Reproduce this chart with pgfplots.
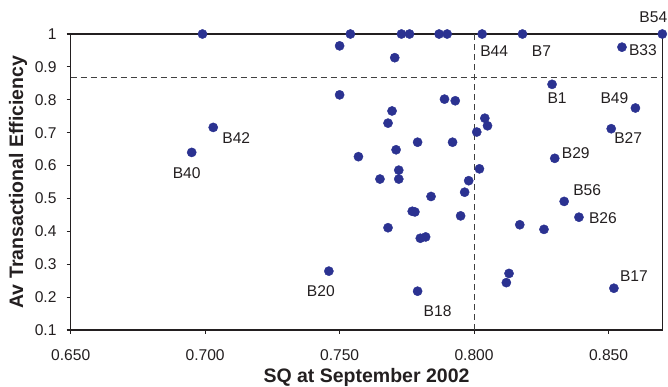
\documentclass[border=0pt]{standalone}
\usepackage{pgfplots}
\pgfplotsset{compat=1.18}
\usepackage{fontspec}
\setmainfont{Liberation Sans}
\definecolor{dotblue}{RGB}{43,50,145}
\definecolor{txt}{RGB}{35,31,32}
\definecolor{dashgray}{RGB}{64,64,64}
\tikzset{lbl/.style={font=\fontsize{15.6bp}{18bp}\selectfont, text=txt, inner sep=0pt}}
\begin{document}
\begin{tikzpicture}
\begin{axis}[
  at={(70.7bp,57bp)}, anchor=south west,
  scale only axis, width=591.6bp, height=296bp,
  xmin=0.65, xmax=0.87, ymin=0.1, ymax=1,
  xtick={0.65,0.7,0.75,0.8,0.85},
  ytick={0.1,0.2,0.3,0.4,0.5,0.6,0.7,0.8,0.9,1},
  xtick pos=bottom, ytick pos=left,
  tick align=outside, major tick length=4bp,
  axis line style={line width=1.1bp, color=txt},
  tick style={line width=1.1bp, color=txt},
  /pgf/number format/assume math mode=true,
  xticklabel style={/pgf/number format/.cd, fixed, fixed zerofill, precision=3, /tikz/.cd, anchor=base, yshift=-27bp, inner sep=0pt, font=\fontsize{15.6bp}{18bp}\selectfont, text=txt},
  yticklabel style={/pgf/number format/.cd, fixed, precision=1, /tikz/.cd, anchor=east, xshift=-10bp, inner sep=0pt, font=\fontsize{15.6bp}{18bp}\selectfont, text=txt},
  scaled x ticks=false, scaled y ticks=false,
  xlabel={SQ at September 2002},
  ylabel={Av Transactional Efficiency},
  xlabel style={at={(axis description cs:0.5,-0.179)}, anchor=base, inner sep=0pt, font=\fontsize{19.5bp}{23bp}\selectfont\bfseries, text=txt},
  ylabel style={at={(axis description cs:-0.089,0.5)}, anchor=center, inner sep=0pt, font=\fontsize{19.5bp}{23bp}\selectfont\bfseries, text=txt},
  clip=false,
]
\addplot[color=dashgray, line width=1.1bp, dash pattern=on 6bp off 4bp] coordinates {(0.65,0.867) (0.87,0.867)};
\addplot[color=dashgray, line width=1.1bp, dash pattern=on 6bp off 4bp] coordinates {(0.8,0.1) (0.8,1)};
\addplot[only marks, mark=*, mark size=4.6bp, mark options={fill=dotblue, draw=dotblue}] coordinates {
(0.699,1) (0.695,0.640) (0.703,0.716) (0.750,0.964) (0.750,0.815)
(0.754,1) (0.773,1) (0.776,1) (0.787,1) (0.790,1) (0.803,1) (0.818,1) (0.870,1)
(0.855,0.960) (0.7705,0.928) (0.829,0.847) (0.789,0.802) (0.793,0.797)
(0.860,0.775) (0.7695,0.766) (0.768,0.729) (0.804,0.744) (0.805,0.721)
(0.851,0.712) (0.801,0.702) (0.779,0.671) (0.792,0.671) (0.771,0.648)
(0.757,0.627) (0.830,0.622) (0.772,0.586) (0.772,0.559) (0.765,0.559)
(0.802,0.590) (0.798,0.554) (0.7965,0.519) (0.784,0.506) (0.8335,0.491)
(0.777,0.461) (0.778,0.459) (0.795,0.447) (0.839,0.443) (0.768,0.411)
(0.817,0.420) (0.826,0.406) (0.780,0.379) (0.782,0.383) (0.813,0.272)
(0.812,0.244) (0.852,0.227) (0.779,0.218) (0.746,0.279)
};
\node[lbl, xshift=-5bp, yshift=-21bp] at (axis cs:0.695,0.640) {B40};
\node[lbl, xshift=23bp, yshift=-11bp] at (axis cs:0.703,0.716) {B42};
\node[lbl, xshift=12bp, yshift=-17bp] at (axis cs:0.803,1) {B44};
\node[lbl, xshift=19bp, yshift=-17bp] at (axis cs:0.818,1) {B7};
\node[lbl, xshift=-9bp, yshift=17bp] at (axis cs:0.870,1) {B54};
\node[lbl, xshift=21bp, yshift=-3bp] at (axis cs:0.855,0.960) {B33};
\node[lbl, xshift=5bp, yshift=-14bp] at (axis cs:0.829,0.847) {B1};
\node[lbl, xshift=-21bp, yshift=10bp] at (axis cs:0.860,0.775) {B49};
\node[lbl, xshift=17bp, yshift=-9bp] at (axis cs:0.851,0.712) {B27};
\node[lbl, xshift=21bp, yshift=5bp] at (axis cs:0.830,0.622) {B29};
\node[lbl, xshift=23bp, yshift=11bp] at (axis cs:0.8335,0.491) {B56};
\node[lbl, xshift=24bp, yshift=-1bp] at (axis cs:0.839,0.443) {B26};
\node[lbl, xshift=20bp, yshift=12bp] at (axis cs:0.852,0.227) {B17};
\node[lbl, xshift=20bp, yshift=-20bp] at (axis cs:0.779,0.218) {B18};
\node[lbl, xshift=-8bp, yshift=-20bp] at (axis cs:0.746,0.279) {B20};
\end{axis}
\pgfresetboundingbox
\useasboundingbox (0,0) rectangle (668bp,387bp);
\end{tikzpicture}
\end{document}
